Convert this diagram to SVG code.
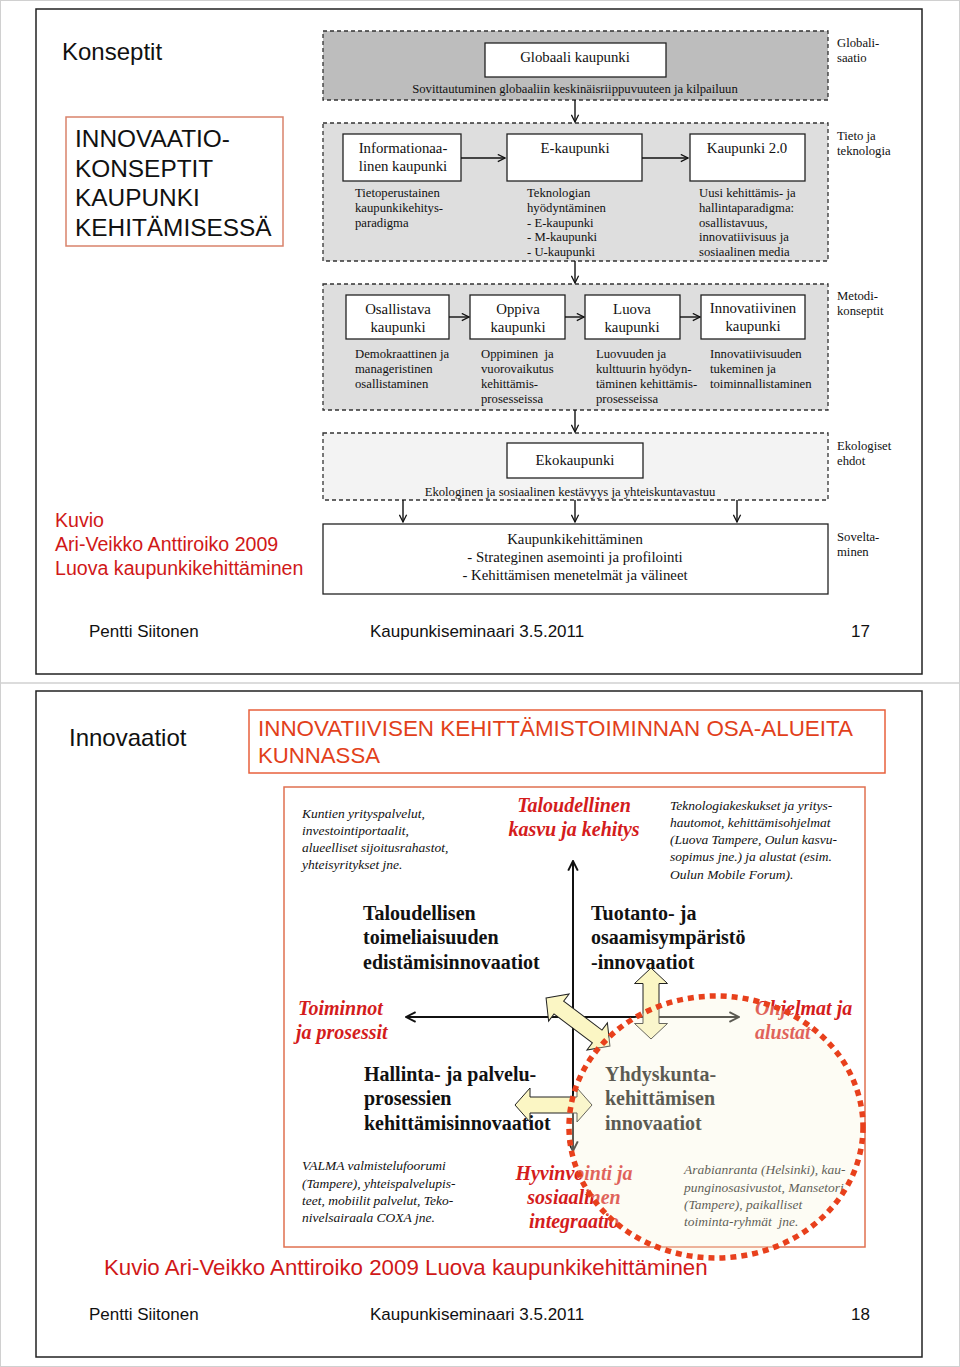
<svg xmlns="http://www.w3.org/2000/svg" width="960" height="1367" viewBox="0 0 960 1367">
<defs>
<style>
.sans{font-family:"Liberation Sans",Arial,sans-serif}
.serif{font-family:"Liberation Serif","Times New Roman",serif}
.t14{font-family:"Liberation Serif","Times New Roman",serif;font-size:14.8px;fill:#111}
.t12{font-family:"Liberation Serif","Times New Roman",serif;font-size:12.7px;fill:#111}
.box{fill:#fff;stroke:#222;stroke-width:1.3}
.dash{stroke:#333;stroke-width:1.3;stroke-dasharray:4 3}
.con{stroke:#111;stroke-width:1.4;fill:none;marker-end:url(#v)}
.it13{font-family:"Liberation Serif","Times New Roman",serif;font-size:13.5px;font-style:italic;fill:#111}
.b20{font-family:"Liberation Serif","Times New Roman",serif;font-size:20px;font-weight:bold;fill:#111}
.rbi{font-family:"Liberation Serif","Times New Roman",serif;font-size:20px;font-weight:bold;font-style:italic;fill:#d41c1c}
.foot{font-family:"Liberation Sans",Arial,sans-serif;font-size:17px;fill:#111}
.blk{fill:#fbf6c4;stroke:#222;stroke-width:1}
.ax{stroke:#111;stroke-width:2;fill:none;marker-end:url(#v2)}
</style>
<marker id="v" viewBox="0 0 10 10" refX="9" refY="5" markerWidth="9" markerHeight="9" orient="auto" markerUnits="userSpaceOnUse"><path d="M1 1 L9 5 L1 9" fill="none" stroke="#111" stroke-width="1.4"/></marker>
<marker id="v2" viewBox="0 0 10 10" refX="9" refY="5" markerWidth="12" markerHeight="12" orient="auto" markerUnits="userSpaceOnUse"><path d="M1 1 L9 5 L1 9" fill="none" stroke="#111" stroke-width="1.6"/></marker>
</defs>
<rect x="0" y="0" width="960" height="1367" fill="#fff"/>
<rect x="0.5" y="0.5" width="959" height="1366" fill="none" stroke="#d0d0d0" stroke-width="1"/>
<line x1="0" y1="683" x2="960" y2="683" stroke="#d0d0d0" stroke-width="1.5"/>

<!-- Slide 1 -->
<g id="slide1">
<rect x="36" y="9" width="886" height="665" fill="#fff" stroke="#222" stroke-width="1.5"/>
<text x="62" y="60" class="sans" font-size="24" fill="#111">Konseptit</text>
<g id="title1">
<rect x="66" y="117" width="217" height="129" fill="#fff" stroke="#d9826b" stroke-width="1.5"/>
<text class="sans" font-size="24.4" fill="#111"><tspan x="75" y="147">INNOVAATIO-</tspan><tspan x="75" y="177">KONSEPTIT</tspan><tspan x="75" y="206">KAUPUNKI</tspan><tspan x="75" y="236">KEHITÄMISESSÄ</tspan></text>
</g>
<g id="layer-global">
<rect x="323" y="31" width="505" height="69" fill="#bdbdbd" class="dash"/>
<rect x="485" y="43" width="181" height="34" class="box"/>
<text x="575" y="62" class="t14" text-anchor="middle">Globaali kaupunki</text>
<text x="575" y="93" class="t12" text-anchor="middle">Sovittautuminen globaaliin keskinäisriippuvuuteen ja kilpailuun</text>
<text class="t12"><tspan x="837" y="47">Globali-</tspan><tspan x="837" y="62">saatio</tspan></text>
</g>
<g id="layer-tech">
<rect x="323" y="123" width="505" height="138" fill="#dedede" class="dash"/>
<g id="n-info"><rect x="343" y="134" width="118" height="47" class="box"/>
<text class="t14" text-anchor="middle"><tspan x="403" y="153">Informationaa-</tspan><tspan x="403" y="171">linen kaupunki</tspan></text></g>
<g id="n-ekaup"><rect x="507" y="134" width="135" height="47" class="box"/>
<text x="575" y="153" class="t14" text-anchor="middle">E-kaupunki</text></g>
<g id="n-k20"><rect x="690" y="134" width="115" height="47" class="box"/>
<text x="747" y="153" class="t14" text-anchor="middle">Kaupunki 2.0</text></g>
<text class="t12"><tspan x="355" y="197">Tietoperustainen</tspan><tspan x="355" y="212">kaupunkikehitys-</tspan><tspan x="355" y="227">paradigma</tspan></text>
<text class="t12"><tspan x="527" y="197">Teknologian</tspan><tspan x="527" y="212">hyödyntäminen</tspan><tspan x="527" y="227">- E-kaupunki</tspan><tspan x="527" y="241">- M-kaupunki</tspan><tspan x="527" y="256">- U-kaupunki</tspan></text>
<text class="t12"><tspan x="699" y="197">Uusi kehittämis- ja</tspan><tspan x="699" y="212">hallintaparadigma:</tspan><tspan x="699" y="227">osallistavuus,</tspan><tspan x="699" y="241">innovatiivisuus ja</tspan><tspan x="699" y="256">sosiaalinen media</tspan></text>
<text class="t12"><tspan x="837" y="140">Tieto ja</tspan><tspan x="837" y="155">teknologia</tspan></text>
</g>
<g id="layer-method">
<rect x="323" y="284" width="505" height="126" fill="#dedede" class="dash"/>
<g id="n-osal"><rect x="346" y="295" width="103" height="44" class="box"/>
<text class="t14" text-anchor="middle"><tspan x="398" y="314">Osallistava</tspan><tspan x="398" y="332">kaupunki</tspan></text></g>
<g id="n-oppiva"><rect x="470" y="295" width="95" height="44" class="box"/>
<text class="t14" text-anchor="middle"><tspan x="518" y="314">Oppiva</tspan><tspan x="518" y="332">kaupunki</tspan></text></g>
<g id="n-luova"><rect x="585" y="295" width="95" height="44" class="box"/>
<text class="t14" text-anchor="middle"><tspan x="632" y="314">Luova</tspan><tspan x="632" y="332">kaupunki</tspan></text></g>
<g id="n-innov"><rect x="701" y="295" width="104" height="44" class="box"/>
<text class="t14" text-anchor="middle"><tspan x="753" y="313">Innovatiivinen</tspan><tspan x="753" y="331">kaupunki</tspan></text></g>
<text class="t12"><tspan x="355" y="358">Demokraattinen ja</tspan><tspan x="355" y="373">manageristinen</tspan><tspan x="355" y="388">osallistaminen</tspan></text>
<text class="t12" xml:space="preserve"><tspan x="481" y="358">Oppiminen  ja</tspan><tspan x="481" y="373">vuorovaikutus</tspan><tspan x="481" y="388">kehittämis-</tspan><tspan x="481" y="403">prosesseissa</tspan></text>
<text class="t12"><tspan x="596" y="358">Luovuuden ja</tspan><tspan x="596" y="373">kulttuurin hyödyn-</tspan><tspan x="596" y="388">täminen kehittämis-</tspan><tspan x="596" y="403">prosesseissa</tspan></text>
<text class="t12"><tspan x="710" y="358">Innovatiivisuuden</tspan><tspan x="710" y="373">tukeminen ja</tspan><tspan x="710" y="388">toiminnallistaminen</tspan></text>
<text class="t12"><tspan x="837" y="300">Metodi-</tspan><tspan x="837" y="315">konseptit</tspan></text>
</g>
<g id="layer-eco">
<rect x="323" y="433" width="505" height="67" fill="#f3f3f3" class="dash"/>
<rect x="507" y="443" width="136" height="35" class="box"/>
<text x="575" y="465" class="t14" text-anchor="middle">Ekokaupunki</text>
<text x="570" y="496" class="t12" text-anchor="middle">Ekologinen ja sosiaalinen kestävyys ja yhteiskuntavastuu</text>
<text class="t12"><tspan x="837" y="450">Ekologiset</tspan><tspan x="837" y="465">ehdot</tspan></text>
</g>
<g id="n-kaupkeh">
<rect x="323" y="524" width="505" height="70" class="box"/>
<text class="t14" text-anchor="middle"><tspan x="575" y="544">Kaupunkikehittäminen</tspan><tspan x="575" y="562">- Strateginen asemointi ja profilointi</tspan><tspan x="575" y="580">- Kehittämisen menetelmät ja välineet</tspan></text>
<text class="t12"><tspan x="837" y="541">Sovelta-</tspan><tspan x="837" y="556">minen</tspan></text>
</g>
<g id="connectors1">
<line x1="575" y1="100" x2="575" y2="122" class="con"/>
<line x1="461" y1="158" x2="505" y2="158" class="con"/>
<line x1="642" y1="158" x2="688" y2="158" class="con"/>
<line x1="575" y1="261" x2="575" y2="283" class="con"/>
<line x1="449" y1="317" x2="469" y2="317" class="con"/>
<line x1="565" y1="317" x2="584" y2="317" class="con"/>
<line x1="680" y1="317" x2="700" y2="317" class="con"/>
<line x1="575" y1="410" x2="575" y2="432" class="con"/>
<line x1="403" y1="500" x2="403" y2="522" class="con"/>
<line x1="575" y1="500" x2="575" y2="522" class="con"/>
<line x1="737" y1="500" x2="737" y2="522" class="con"/>
</g>
<text class="sans" font-size="19.6" fill="#d01818"><tspan x="55" y="527">Kuvio</tspan><tspan x="55" y="551">Ari-Veikko Anttiroiko 2009</tspan><tspan x="55" y="575">Luova kaupunkikehittäminen</tspan></text>
<text x="89" y="637" class="foot">Pentti Siitonen</text>
<text x="370" y="637" class="foot">Kaupunkiseminaari 3.5.2011</text>
<text x="851" y="637" class="foot">17</text>
</g>

<!-- Slide 2 -->
<g id="slide2">
<rect x="36" y="691" width="886" height="666" fill="#fff" stroke="#222" stroke-width="1.5"/>
<text x="69" y="746" class="sans" font-size="24" fill="#111">Innovaatiot</text>
<g id="title2">
<rect x="249" y="710" width="636" height="63" fill="#fff" stroke="#e8603c" stroke-width="1.5"/>
<text class="sans" font-size="22" fill="#e2401a"><tspan x="258" y="736" textLength="595" lengthAdjust="spacingAndGlyphs">INNOVATIIVISEN KEHITTÄMISTOIMINNAN OSA-ALUEITA</tspan><tspan x="258" y="763" textLength="122" lengthAdjust="spacingAndGlyphs">KUNNASSA</tspan></text>
</g>
<rect x="284" y="787" width="581" height="460" fill="#fff" stroke="#e07050" stroke-width="1.5"/>
<g id="axes">
<line x1="573" y1="1017" x2="573" y2="861" class="ax"/>
<line x1="573" y1="1017" x2="573" y2="1151" class="ax"/>
<line x1="573" y1="1017" x2="406" y2="1017" class="ax"/>
<line x1="573" y1="1017" x2="739" y2="1017" class="ax"/>
</g>
<text class="it13"><tspan x="302" y="818">Kuntien yrityspalvelut,</tspan><tspan x="302" y="835">investointiportaalit,</tspan><tspan x="302" y="852">alueelliset sijoitusrahastot,</tspan><tspan x="302" y="869">yhteisyritykset jne.</tspan></text>
<text class="rbi" text-anchor="middle"><tspan x="574" y="812">Taloudellinen</tspan><tspan x="574" y="836">kasvu ja kehitys</tspan></text>
<text class="it13"><tspan x="670" y="810">Teknologiakeskukset ja yritys-</tspan><tspan x="670" y="827">hautomot, kehittämisohjelmat</tspan><tspan x="670" y="844">(Luova Tampere, Oulun kasvu-</tspan><tspan x="670" y="861">sopimus jne.) ja alustat (esim.</tspan><tspan x="670" y="879">Oulun Mobile Forum).</tspan></text>
<g id="q-tal"><text class="b20"><tspan x="363" y="920">Taloudellisen</tspan><tspan x="363" y="944">toimeliaisuuden</tspan><tspan x="363" y="969">edistämisinnovaatiot</tspan></text></g>
<g id="q-tuo"><text class="b20"><tspan x="591" y="920">Tuotanto- ja</tspan><tspan x="591" y="944">osaamisympäristö</tspan><tspan x="591" y="969">-innovaatiot</tspan></text></g>
<text class="rbi"><tspan x="298" y="1015">Toiminnot</tspan><tspan x="296" y="1039">ja prosessit</tspan></text>
<text class="rbi"><tspan x="755" y="1015">Ohjelmat ja</tspan><tspan x="755" y="1039">alustat</tspan></text>
<g id="q-hal"><text class="b20"><tspan x="364" y="1081">Hallinta- ja palvelu-</tspan><tspan x="364" y="1105">prosessien</tspan><tspan x="364" y="1130">kehittämisinnovaatiot</tspan></text></g>
<g id="q-yhd"><text class="b20"><tspan x="605" y="1081">Yhdyskunta-</tspan><tspan x="605" y="1105">kehittämisen</tspan><tspan x="605" y="1130">innovaatiot</tspan></text></g>
<text class="it13"><tspan x="302" y="1170">VALMA valmistelufoorumi</tspan><tspan x="302" y="1188">(Tampere), yhteispalvelupis-</tspan><tspan x="302" y="1205">teet, mobiilit palvelut, Teko-</tspan><tspan x="302" y="1222">nivelsairaala COXA jne.</tspan></text>
<text class="rbi" text-anchor="middle"><tspan x="574" y="1180">Hyvinvointi ja</tspan><tspan x="574" y="1204">sosiaalinen</tspan><tspan x="574" y="1228">integraatio</tspan></text>
<text class="it13" xml:space="preserve"><tspan x="684" y="1174">Arabianranta (Helsinki), kau-</tspan><tspan x="684" y="1192">punginosasivustot, Mansetori</tspan><tspan x="684" y="1209">(Tampere), paikalliset</tspan><tspan x="684" y="1226">toiminta-ryhmät  jne.</tspan></text>
<g id="block-arrows">
<path class="blk" transform="translate(651,1003.5)" d="M0 -35.5 L16.5 -20 L8 -20 L8 20 L16.5 20 L0 35.5 L-16.5 20 L-8 20 L-8 -20 L-16.5 -20 Z"/>
<path class="blk" transform="translate(578,1022) rotate(37)" d="M-40 0 L-24 -17 L-24 -8 L24 -8 L24 -17 L40 0 L24 17 L24 8 L-24 8 L-24 17 Z"/>
<path class="blk" transform="translate(553.5,1105)" d="M-38.5 0 L-23.5 -17 L-23.5 -8 L23.5 -8 L23.5 -17 L38.5 0 L23.5 17 L23.5 8 L-23.5 8 L-23.5 17 Z"/>
</g>
<g id="circle">
<ellipse cx="716" cy="1127" rx="147" ry="131" fill="#faf7dc" fill-opacity="0.32"/>
<ellipse cx="716" cy="1127" rx="147" ry="131" fill="none" stroke="#e8401c" stroke-width="5.5" stroke-dasharray="6 5"/>
</g>
<text class="sans" font-size="22.3" fill="#d01818" x="104" y="1275">Kuvio Ari-Veikko Anttiroiko 2009 Luova kaupunkikehittäminen</text>
<text x="89" y="1320" class="foot">Pentti Siitonen</text>
<text x="370" y="1320" class="foot">Kaupunkiseminaari 3.5.2011</text>
<text x="851" y="1320" class="foot">18</text>
</g>
</svg>
